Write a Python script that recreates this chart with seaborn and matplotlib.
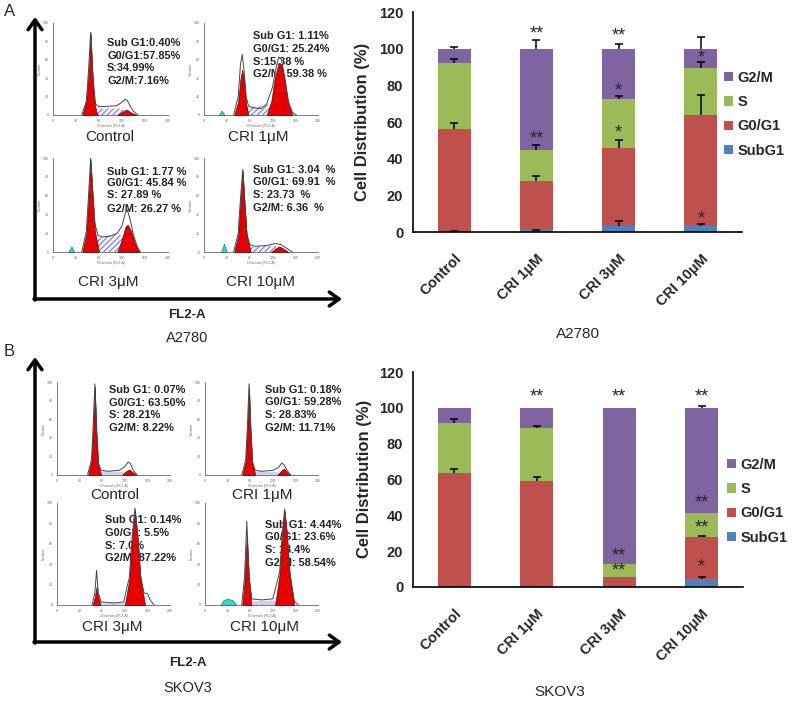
import numpy as np
import matplotlib
matplotlib.use("Agg")
import matplotlib.pyplot as plt
import seaborn as sns

sns.set_style("white")
plt.rcParams["font.family"] = ["Liberation Sans", "DejaVu Sans"]
plt.rcParams["hatch.linewidth"] = 0.5

W, H = 800, 705

cats = ["Control", "CRI 1μM", "CRI 3μM", "CRI 10μM"]
phases = ["G2/M", "S", "G0/G1", "SubG1"]
colors = {"G2/M": "#8064A2", "S": "#9BBB59", "G0/G1": "#C0504D", "SubG1": "#4F81BD"}

# A2780 cell distribution (%), mean and upward error
a_subg1 = [0.4, 1.0, 3.5, 3.3]
a_g0g1 = [55.6, 27.0, 42.5, 60.7]
a_s = [36.3, 17.0, 26.5, 25.5]
a_g2m = [7.7, 55.0, 27.5, 10.5]
a_subg1_err = [0.3, 0.3, 2.5, 0.8]
a_g0g1_err = [3.5, 2.5, 4.0, 10.5]
a_s_err = [2.2, 2.5, 1.5, 3.5]
a_g2m_err = [1.0, 5.0, 2.5, 6.5]
a_stars = [(1, 108, "**"), (1, 51, "**"), (2, 107, "**"), (2, 77, "*"),
           (2, 54, "*"), (3, 95, "*"), (3, 7, "*")]

# SKOV3 cell distribution (%)
b_subg1 = [0.07, 0.18, 0.14, 4.4]
b_g0g1 = [63.3, 59.1, 5.5, 23.7]
b_s = [28.4, 29.3, 7.1, 13.2]
b_g2m = [8.23, 11.42, 87.26, 58.7]
b_subg1_err = [0, 0, 0, 1.2]
b_g0g1_err = [2.5, 2.1, 0, 0.4]
b_s_err = [2.1, 1.3, 0, 0]
b_g2m_err = [0, 0, 0, 0.8]
b_stars = [(1, 106, "**"), (2, 106, "**"), (2, 17.5, "**"), (2, 9, "**"),
           (3, 106, "**"), (3, 47, "**"), (3, 33, "**"), (3, 11, "*")]

# flow cytometry histograms: (channel, relative count) points
a_ctl_outline = [(50, 0), (58, 15), (62, 50), (65.5, 90), (69, 45), (74, 12), (80, 9), (110, 10),
                 (118, 13), (125, 17), (129, 16), (134, 10), (140, 4), (148, 0)]
a_ctl_g1 = [(51, 0), (58, 15), (63, 55), (65.5, 89), (68, 55), (71, 18), (75, 4), (78, 0)]
a_ctl_g2 = [(112, 0), (122, 4), (128, 6), (135, 3), (145, 0)]
a_ctl_s = [(66, 0), (76, 7), (118, 7), (128, 4), (135, 0)]
a_ctl_sub = []

a_c1_outline = [(52, 0), (60, 20), (64, 55), (67, 66), (70, 50), (74, 20), (78, 10), (85, 8), (100, 7),
                (110, 12), (120, 30), (126, 50), (131, 63), (136, 60), (142, 40), (148, 15), (155, 3), (162, 0)]
a_c1_g1 = [(53, 0), (60, 15), (64, 40), (67, 49), (70, 40), (74, 12), (78, 0)]
a_c1_g2 = [(110, 0), (118, 15), (124, 40), (131, 57), (136, 55), (142, 35), (148, 12), (155, 0)]
a_c1_s = [(65, 0), (75, 8), (100, 10), (120, 12), (135, 8), (150, 0)]
a_c1_sub = [(26, 0), (31, 5), (36, 0)]

a_c3_outline = [(50, 0), (58, 22), (62, 62), (65.5, 100), (69, 65), (73, 30), (78, 18), (85, 16), (100, 17),
                (112, 20), (120, 28), (126, 42), (129, 45), (134, 35), (140, 18), (147, 5), (152, 0)]
a_c3_g1 = [(51, 0), (58, 20), (62, 60), (65.5, 98), (69, 60), (73, 22), (80, 0)]
a_c3_g2 = [(112, 0), (120, 14), (126, 27), (130, 29), (136, 22), (142, 10), (150, 0)]
a_c3_s = [(66, 0), (75, 14), (100, 18), (115, 19), (125, 14), (138, 5), (145, 0)]
a_c3_sub = [(27, 0), (32, 6), (37, 0)]

a_c10_outline = [(52, 0), (60, 20), (64, 57), (68, 88), (71, 57), (75, 20), (80, 8), (90, 6), (110, 7),
                 (125, 9), (135, 8), (145, 4), (155, 0)]
a_c10_g1 = [(53, 0), (60, 18), (64, 55), (68, 86), (71, 55), (75, 18), (82, 0)]
a_c10_g2 = [(118, 0), (126, 4), (132, 6), (138, 4), (148, 0)]
a_c10_s = [(70, 0), (80, 5), (110, 7), (130, 6), (145, 0)]
a_c10_sub = [(30, 0), (35, 9), (40, 0)]

b_ctl_outline = [(54, 0), (61, 16), (64, 52), (67, 98), (70, 47), (73, 13), (78, 5), (90, 4), (110, 5),
                 (120, 9), (126, 14), (130, 12), (135, 5), (142, 0)]
b_ctl_g1 = [(55, 0), (61, 15), (64, 50), (67, 95), (70, 45), (73, 12), (78, 0)]
b_ctl_g2 = [(115, 0), (122, 4), (128, 6), (134, 3), (140, 0)]
b_ctl_s = [(68, 0), (75, 4), (115, 4), (125, 2), (135, 0)]
b_ctl_sub = []

b_c1_outline = [(65, 0), (72, 16), (75, 52), (78, 98), (81, 47), (84, 14), (89, 5), (100, 4), (120, 5),
                (130, 8), (136, 13), (140, 11), (145, 5), (152, 0)]
b_c1_g1 = [(66, 0), (72, 15), (75, 50), (78, 95), (81, 45), (84, 12), (89, 0)]
b_c1_g2 = [(128, 0), (134, 4), (140, 7), (145, 3), (150, 0)]
b_c1_s = [(78, 0), (86, 4), (125, 4), (135, 2), (145, 0)]
b_c1_sub = []

b_c3_outline = [(62, 0), (67, 12), (70, 34), (73, 12), (78, 3), (100, 2), (118, 3), (128, 27), (133, 67),
                (138, 95), (143, 67), (148, 28), (154, 12), (160, 11), (166, 4), (172, 0)]
b_c3_g1 = [(63, 0), (67, 8), (70, 18), (73, 8), (77, 0)]
b_c3_g2 = [(120, 0), (128, 25), (133, 65), (138, 93), (143, 65), (148, 25), (156, 0)]
b_c3_s = [(72, 0), (80, 2), (120, 3), (135, 0)]
b_c3_sub = []

b_c10_outline = [(65, 0), (70, 28), (74, 82), (78, 28), (83, 6), (100, 5), (120, 6), (132, 32), (137, 72),
                 (141, 94), (145, 72), (150, 32), (158, 4), (165, 0)]
b_c10_g1 = [(66, 0), (70, 25), (74, 69), (78, 25), (82, 0)]
b_c10_g2 = [(124, 0), (132, 30), (137, 70), (141, 92), (145, 70), (150, 30), (158, 0)]
b_c10_s = [(76, 0), (85, 4), (120, 5), (135, 2), (145, 0)]
b_c10_sub = [(27, 0), (33, 5), (40, 6), (48, 5), (56, 0)]

a_ctl_txt = ["Sub G1:0.40%", "G0/G1:57.85%", "S:34.99%", "G2/M:7.16%"]
a_c1_txt = ["Sub G1: 1.11%", "G0/G1: 25.24%", "S:15.38 %", "G2/M: 59.38 %"]
a_c3_txt = ["Sub G1: 1.77 %", "G0/G1: 45.84 %", "S: 27.89 %", "G2/M: 26.27 %"]
a_c10_txt = ["Sub G1: 3.04  %", "G0/G1: 69.91  %", "S: 23.73  %", "G2/M: 6.36  %"]
b_ctl_txt = ["Sub G1: 0.07%", "G0/G1: 63.50%", "S: 28.21%", "G2/M: 8.22%"]
b_c1_txt = ["Sub G1: 0.18%", "G0/G1: 59.28%", "S: 28.83%", "G2/M: 11.71%"]
b_c3_txt = ["Sub G1: 0.14%", "G0/G1: 5.5%", "S: 7.0%", "G2/M: 87.22%"]
b_c10_txt = ["Sub G1: 4.44%", "G0/G1: 23.6%", "S: 13.4%", "G2/M: 58.54%"]

fig = plt.figure(figsize=(W / 100, H / 100), dpi=100)


def px_axes(l, t, r, b):
    return fig.add_axes([l / W, 1 - b / H, (r - l) / W, (b - t) / H])


canvas = px_axes(0, 0, W, H)
canvas.set_xlim(0, W)
canvas.set_ylim(H, 0)
canvas.axis("off")
canvas.patch.set_alpha(0)


def hist_panel(box, outline, g1, g2, s_band, sub, hatched):
    ax = px_axes(*box)
    ax.patch.set_alpha(0)
    ox, oy = zip(*outline)
    ax.fill_between(ox, oy, color="white", lw=0, zorder=1)
    sx, sy = zip(*s_band)
    if hatched:
        ax.fill_between(sx, sy, facecolor="#ececfa", edgecolor="#4b4ba5",
                        hatch="//////", lw=0, zorder=2)
    else:
        ax.fill_between(sx, sy, color="#cdd0f0", lw=0, zorder=2)
    for peak in (g1, g2):
        qx, qy = zip(*peak)
        ax.fill_between(qx, qy, facecolor="#e60000", edgecolor="#3a0000", lw=0.4, zorder=3)
    if sub:
        cx, cy = zip(*sub)
        ax.fill_between(cx, cy, facecolor="#35d5d5", edgecolor="#006868", lw=0.4, zorder=3)
    sns.lineplot(x=list(ox), y=list(oy), ax=ax, color="#444444", lw=0.7,
                 sort=False, estimator=None, zorder=4)
    ax.set_xlim(0, 200)
    ax.set_ylim(0, 100)
    sns.despine(ax=ax)
    for sp in ("left", "bottom"):
        ax.spines[sp].set_linewidth(0.6)
        ax.spines[sp].set_color("#666666")
    ax.set_xticks(range(0, 201, 40))
    ax.set_xticks(range(0, 201, 8), minor=True)
    ax.set_yticks(range(0, 101, 20))
    ax.set_yticks(range(0, 101, 4), minor=True)
    ax.tick_params(which="major", length=2, width=0.4, labelsize=2.5, pad=1, colors="#666666")
    ax.tick_params(which="minor", length=1, width=0.3, colors="#666666")
    ax.set_yticklabels([str(v) for v in range(0, 101, 20)])
    ax.set_xlabel("Channels (FL2-A)", fontsize=2.5, labelpad=0.5, color="#666666")
    ax.set_ylabel("Number", fontsize=2.5, labelpad=0.5, color="#666666")
    return ax


def stats_text(x, ys, lines):
    for y, t in zip(ys, lines):
        canvas.text(x, y, t, ha="left", va="center", fontsize=7.9, fontweight="bold", color="#222222")


# ---- panel A histograms
hist_panel((53, 23, 168, 115), a_ctl_outline, a_ctl_g1, a_ctl_g2, a_ctl_s, a_ctl_sub, True)
hist_panel((204, 23, 318, 115), a_c1_outline, a_c1_g1, a_c1_g2, a_c1_s, a_c1_sub, True)
hist_panel((53, 158, 168, 252), a_c3_outline, a_c3_g1, a_c3_g2, a_c3_s, a_c3_sub, True)
hist_panel((204, 158, 318, 252), a_c10_outline, a_c10_g1, a_c10_g2, a_c10_s, a_c10_sub, True)
stats_text(107, [43, 56, 68, 81], a_ctl_txt)
stats_text(253, [36, 49, 62, 74], a_c1_txt)
stats_text(107, [172, 183, 195, 209], a_c3_txt)
stats_text(253, [170, 182, 195, 208], a_c10_txt)

# ---- panel B histograms
hist_panel((57, 382, 170, 475), b_ctl_outline, b_ctl_g1, b_ctl_g2, b_ctl_s, b_ctl_sub, False)
hist_panel((205, 382, 318, 475), b_c1_outline, b_c1_g1, b_c1_g2, b_c1_s, b_c1_sub, False)
hist_panel((57, 503, 170, 605), b_c3_outline, b_c3_g1, b_c3_g2, b_c3_s, b_c3_sub, False)
hist_panel((205, 503, 318, 605), b_c10_outline, b_c10_g1, b_c10_g2, b_c10_s, b_c10_sub, False)
stats_text(109, [390, 403, 415, 428], b_ctl_txt)
stats_text(265, [390, 402, 415, 428], b_c1_txt)
stats_text(105, [520, 533, 546, 558], b_c3_txt)
stats_text(265, [525, 537, 550, 563], b_c10_txt)

# sample names under histograms
for x, y, t in [(110, 137, "Control"), (258, 137, "CRI 1μM"), (108, 282, "CRI 3μM"), (261, 282, "CRI 10μM"),
                (115, 495, "Control"), (262, 495, "CRI 1μM"), (112, 627, "CRI 3μM"), (264, 627, "CRI 10μM")]:
    canvas.text(x, y, t, ha="center", va="center", fontsize=11)

# L-shaped arrows framing the histograms
arrow = dict(arrowstyle="->,head_length=0.7,head_width=0.5", lw=2.5, color="black",
             shrinkA=0, shrinkB=0)
for top, corner in [(17, 299), (357, 642)]:
    canvas.annotate("", xy=(35, top), xytext=(35, corner + 1), arrowprops=arrow)
    canvas.annotate("", xy=(342, corner), xytext=(34, corner), arrowprops=arrow)

canvas.text(10, 12, "A", ha="center", va="center", fontsize=12)
canvas.text(9, 352, "B", ha="center", va="center", fontsize=12)
canvas.text(187, 315, "FL2-A", ha="center", va="center", fontsize=9.5, fontweight="bold")
canvas.text(187, 338, "A2780", ha="center", va="center", fontsize=10.5)
canvas.text(188, 663, "FL2-A", ha="center", va="center", fontsize=9.5, fontweight="bold")
canvas.text(188, 688, "SKOV3", ha="center", va="center", fontsize=10.5)


def stacked_panel(box, subg1, g0g1, s, g2m, errs, stars, legend_xy):
    ax = px_axes(*box)
    ax.patch.set_alpha(0)
    subg1 = np.array(subg1)
    tops = {"SubG1": subg1}
    tops["G0/G1"] = tops["SubG1"] + np.array(g0g1)
    tops["S"] = tops["G0/G1"] + np.array(s)
    tops["G2/M"] = tops["S"] + np.array(g2m)
    for ph in phases:
        sns.barplot(x=cats, y=tops[ph], order=cats, color=colors[ph], width=0.4,
                    saturation=1, errorbar=None, label=ph, ax=ax, zorder=2,
                    linewidth=0, edgecolor="none")
    xs = np.arange(len(cats))
    for ph, err in zip(["SubG1", "G0/G1", "S", "G2/M"], errs):
        err = np.array(err, dtype=float)
        m = err > 0
        eb = ax.errorbar(xs[m], tops[ph][m], yerr=[np.zeros(m.sum()), err[m]], fmt="none",
                         ecolor="black", elinewidth=1.1, capsize=3, capthick=1.1, zorder=3)
        if eb[1]:
            eb[1][0].set_visible(False)  # only the upper cap
    for i, y, t in stars:
        ax.text(i, y, t, ha="center", va="center", fontsize=13, zorder=4)
    ax.set_xlim(-0.5, 3.5)
    ax.set_ylim(0, 120)
    ax.set_yticks(range(0, 121, 20))
    ax.set_yticklabels([str(v) for v in range(0, 121, 20)], fontsize=10.5, fontweight="bold")
    ax.set_xticks(xs)
    ax.set_xticklabels(cats, rotation=45, ha="right", rotation_mode="anchor",
                       fontsize=10.5, fontweight="bold")
    ax.set_xticks(np.arange(-0.5, 3.6, 1), minor=True)
    ax.tick_params(axis="x", which="major", length=0, pad=14)
    ax.tick_params(axis="x", which="minor", length=5, width=1.1, direction="out", color="black")
    ax.tick_params(axis="y", length=4, width=1.1, direction="out", color="black", pad=3)
    ax.set_xlabel("")
    ax.set_ylabel("")
    sns.despine(ax=ax)
    for sp in ("left", "bottom"):
        ax.spines[sp].set_linewidth(1.2)
        ax.spines[sp].set_color("black")
    h, l = ax.get_legend_handles_labels()
    ax.legend(h, l, loc="upper left", bbox_to_anchor=(legend_xy[0] / W, 1 - legend_xy[1] / H),
              bbox_transform=fig.transFigure, frameon=False, borderpad=0, borderaxespad=0,
              handlelength=0.6, handleheight=0.6, handletextpad=0.35, labelspacing=0.7,
              prop={"weight": "bold", "size": 10.5})
    return ax


stacked_panel((413, 12, 742, 232), a_subg1, a_g0g1, a_s, a_g2m,
              [a_subg1_err, a_g0g1_err, a_s_err, a_g2m_err], a_stars, (724, 71))
stacked_panel((413, 372, 743, 587), b_subg1, b_g0g1, b_s, b_g2m,
              [b_subg1_err, b_g0g1_err, b_s_err, b_g2m_err], b_stars, (727, 458))

canvas.text(363, 122, "Cell Distribution (%)", rotation=90, ha="center", va="center",
            fontsize=12, fontweight="bold")
canvas.text(365, 479, "Cell Distribution (%)", rotation=90, ha="center", va="center",
            fontsize=12, fontweight="bold")
canvas.text(578, 334, "A2780", ha="center", va="center", fontsize=11)
canvas.text(560, 692, "SKOV3", ha="center", va="center", fontsize=11)

fig.savefig("out.png", dpi=100)
